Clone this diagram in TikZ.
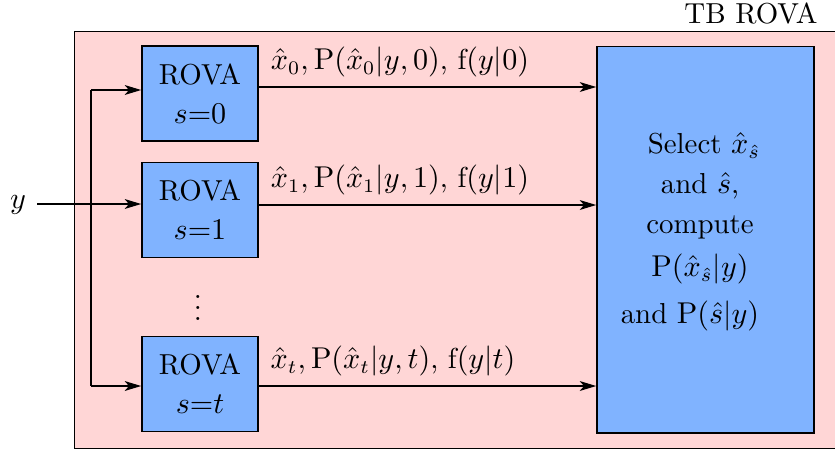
\documentclass[tikz,border=0pt]{standalone}
\usetikzlibrary{arrows.meta}
\definecolor{pinkbg}{RGB}{255,214,214}
\definecolor{boxblue}{RGB}{128,179,255}
\begin{document}
\begin{tikzpicture}[x=0.3636pt,y=-0.3636pt,
  every node/.style={font=\fontsize{10.5}{12.6}\selectfont},
  rova/.style={draw,semithick,fill=boxblue,minimum width=42.2pt,minimum height=34.5pt,align=center,inner sep=0pt},
  arr/.style={-{Stealth[length=6pt,width=3.6pt,inset=1.6pt]}},
  lbl/.style={inner sep=0pt}]
\useasboundingbox (0,0) rectangle (835,450);
\node[draw,fill=pinkbg,minimum width=276.6pt,minimum height=151.3pt,inner sep=0pt] (outer) at (455,240) {};
\node[lbl] (title) at (751,13) {TB ROVA};
\node[rova] (b0) at (200,93.5) {ROVA\\[1.5pt]$s{=}0$};
\node[rova] (b1) at (200,210) {ROVA\\[1.5pt]$s{=}1$};
\node[rova] (bt) at (200,384) {ROVA\\[1.5pt]$s{=}t$};
\node[lbl] (dots) at (198,300) {$\vdots$};
\node[draw,semithick,fill=boxblue,minimum width=78.9pt,minimum height=140.4pt,inner sep=0pt] (big) at (705.5,239.7) {};
\node[lbl,align=center,font={\fontsize{10.5}{14.5}\selectfont}] (bigtxt) at (700,232) {\hspace*{2.9pt}Select $\hat{x}_{\hat{s}}$\\ and $\hat{s}$,\\ compute\\[1.1pt] $\mathrm{P}(\hat{x}_{\hat{s}}|y)$\hspace*{11.6pt}\\[2.6pt] and $\mathrm{P}(\hat{s}|y)$\hspace*{7.3pt}};
\node[lbl] (y) at (18,205) {$y$};
\coordinate (yin) at (37,204);
\coordinate (vt) at (91,90);
\coordinate (vm) at (91,204);
\coordinate (vb) at (91,386);
\draw (yin) -- (vm);
\draw (vt) -- (vb);
\draw[arr] (vt) -- (vt -| b0.west);
\draw[arr] (vm) -- (vm -| b1.west);
\draw[arr] (vb) -- (vb -| bt.west);
\coordinate (o0) at (0,87);
\coordinate (o1) at (0,205);
\coordinate (ot) at (0,386);
\draw[arr] (b0.east |- o0) -- (big.west |- o0);
\draw[arr] (b1.east |- o1) -- (big.west |- o1);
\draw[arr] (bt.east |- ot) -- (big.west |- ot);
\node[lbl] (l0) at (400,62) {$\hat{x}_0, \mathrm{P}(\hat{x}_0|y,0)$, f$(y|0)$};
\node[lbl] (l1) at (400,180) {$\hat{x}_1, \mathrm{P}(\hat{x}_1|y,1)$, f$(y|1)$};
\node[lbl] (lt) at (393,361) {$\hat{x}_t, \mathrm{P}(\hat{x}_t|y,t)$, f$(y|t)$};
\end{tikzpicture}
\end{document}
